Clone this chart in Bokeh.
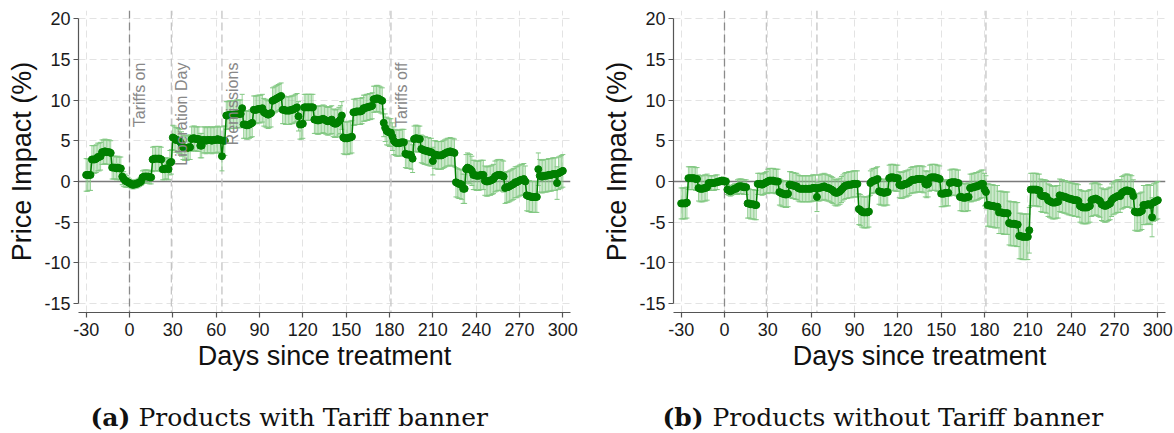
from math import pi
from bokeh.plotting import figure
from bokeh.models import ColumnDataSource, Span, FixedTicker, Range1d
from bokeh.layouts import row, column
from bokeh.embed import file_html
from bokeh.resources import INLINE
from bokeh.core.properties import value

# ---------------- data ----------------
days = list(range(-30, 301))
x_ticks = [-30, 0, 30, 60, 90, 120, 150, 180, 210, 240, 270, 300]
y_ticks = [-15, -10, -5, 0, 5, 10, 15, 20]

event_days = [0, 29, 64, 181]
event_names = ["Tariffs on", "Liberation Day", "Remissions", "Tariffs off"]

panel_letters = ["(a)", "(b)"]
panel_captions = ["Products with Tariff banner", "Products without Tariff banner"]

# (a) Products with Tariff banner: point estimates, one per day (-30..300)
impact_banner = [
    0.8, 0.8, 0.8, 0.8,
    2.7, 2.7, 2.7, 2.8, 3.0, 3.0, 3.1,
    3.6, 3.6, 3.7, 3.6, 3.6, 3.6, 3.5,
    1.7, 1.7, 1.7, 1.6, 1.7, 1.6, 1.6,
    0.6, 0.3, 0.1, 0.0, -0.1,
    -0.2, -0.3, -0.4, -0.4, -0.3, -0.3, -0.2, -0.1, 0.0,
    0.5, 0.6, 0.6, 0.6, 0.6, 0.5, 0.5,
    2.7, 2.8, 2.8, 2.8, 2.8, 2.8, 2.7,
    1.5, 1.5, 1.6, 1.6, 1.5,
    2.3, 2.4,
    5.4, 5.3, 5.1, 5.1, 5.0, 4.9, 4.6,
    4.2, 4.1, 4.1, 4.1, 4.2, 4.2,
    5.2, 5.3, 5.3, 5.2, 5.2, 5.2,
    4.4, 4.4,
    5.1, 5.1, 5.0, 5.1, 5.1, 5.1, 5.0, 5.1, 5.1, 5.1, 5.2, 5.1, 5.1,
    3.1, 5.0, 5.0,
    8.1, 8.1, 8.2, 8.2, 8.2, 8.2, 8.2, 8.3, 8.3, 8.3, 8.3,
    9.0,
    7.0, 7.0, 6.9, 6.9, 7.0, 7.1, 7.2,
    8.8, 8.8, 8.8, 8.9, 8.9, 8.9, 9.0,
    8.5, 8.4, 8.3, 8.2, 8.3, 8.4,
    9.9, 10.0, 10.1, 10.2, 10.3, 10.4, 10.5,
    8.8, 8.8, 8.7, 8.7, 8.7, 8.7, 8.8, 8.8, 8.9, 9.0, 9.1,
    8.0, 7.0, 7.0, 7.1,
    9.1, 9.1, 9.1, 9.1, 9.1, 9.1, 9.1,
    7.6, 7.6, 7.5, 7.5, 7.6, 7.6, 7.7, 7.6, 7.5, 7.4, 7.4, 7.5, 7.6,
    7.2, 7.1, 7.1, 7.2, 7.4, 7.6, 8.1,
    5.4, 5.3, 5.3, 5.3, 5.4, 5.4, 5.5,
    8.5, 8.5, 8.6, 8.6, 8.6, 8.6, 8.7,
    9.0, 9.0, 9.1, 9.1, 9.2, 9.2, 9.3,
    10.1, 10.1, 10.2, 10.2, 10.1, 10.0, 9.9,
    7.2, 6.6, 6.2, 6.1, 6.0, 6.0, 5.5, 5.0,
    4.8, 4.7, 4.7, 4.7, 4.8, 4.8, 4.8,
    3.4, 3.3, 3.3, 3.3, 3.2, 2.8,
    5.2, 5.3, 5.3, 5.2, 5.2,
    4.0, 3.9, 3.8, 3.8, 3.7, 3.7, 3.6, 3.6, 2.5,
    3.3, 3.3, 3.2, 3.2, 3.2, 3.2, 3.3, 3.4,
    3.5, 3.6, 3.6, 3.7, 3.6, 3.6, 3.5,
    -0.1, -0.2, -0.3, -0.3, -0.4, -0.9, -0.9,
    1.5, 1.7, 1.6, 1.5, 1.3,
    0.8, 0.8, 0.7, 0.7, 0.7, 0.8, 0.8, 0.8,
    0.1, 0.0, 0.0, 0.1, 0.1, 0.2, 0.3,
    0.6, 0.7, 0.8, 0.8, 0.8, 0.7, 0.6,
    -0.8, -0.7, -0.7, -0.6, -0.5, -0.4, -0.3,
    -0.1, -0.1, 0.0, 0.1, 0.2, 0.2, 0.3, 0.0,
    -1.7, -1.8, -1.8, -1.9, -1.9, -1.9, -1.9, -1.9,
    1.5, 0.7, 0.6, 0.6, 0.7, 0.7, 0.7, 0.8, 0.8, 0.8, 0.9, 0.9, 0.9,
    -0.2, 1.0, 1.1, 1.2, 1.3,
]

# (a) half-width of the confidence interval, one per day
ci_banner = [
    2.0, 2.0, 1.9, 1.9,
    1.7, 1.7, 1.7, 1.7, 1.7, 1.7, 1.7,
    1.5, 1.5, 1.5, 1.5, 1.5, 1.5, 1.5,
    1.4, 1.4, 1.4, 1.4, 1.4, 1.4, 1.4,
    1.0, 0.9, 0.8, 0.7, 0.6,
    0.5, 0.5, 0.5, 0.5, 0.5, 0.5, 0.5, 0.5, 0.5,
    0.8, 0.8, 0.8, 0.8, 0.8, 0.8, 0.8,
    1.5, 1.5, 1.5, 1.5, 1.5, 1.5, 1.5,
    1.3, 1.3, 1.3, 1.3, 1.3,
    1.5, 1.5,
    1.5, 1.5, 1.5, 1.5, 1.5, 1.5, 1.5,
    1.5, 1.5, 1.5, 1.5, 1.5, 1.5,
    1.5, 1.5, 1.5, 1.5, 1.5, 1.5,
    1.5, 1.5,
    1.6, 1.6, 1.6, 1.6, 1.6, 1.6, 1.6, 1.6, 1.6, 1.6, 1.6, 1.6, 1.6,
    1.8, 1.8, 1.8,
    1.7, 1.7, 1.7, 1.7, 1.7, 1.7, 1.7, 1.7, 1.7, 1.7, 1.7,
    1.7,
    1.7, 1.7, 1.7, 1.7, 1.7, 1.7, 1.7,
    1.7, 1.7, 1.7, 1.7, 1.7, 1.7, 1.7,
    1.7, 1.7, 1.7, 1.7, 1.7, 1.7,
    1.6, 1.6, 1.6, 1.6, 1.6, 1.6, 1.6,
    1.7, 1.7, 1.7, 1.7, 1.7, 1.7, 1.7, 1.7, 1.7, 1.7, 1.7,
    1.8, 1.8, 1.8, 1.8,
    1.6, 1.6, 1.6, 1.6, 1.6, 1.6, 1.6,
    1.7, 1.7, 1.7, 1.7, 1.7, 1.7, 1.7, 1.7, 1.7, 1.7, 1.7, 1.7, 1.7,
    1.7, 1.7, 1.7, 1.7, 1.7, 1.7, 1.7,
    2.0, 2.0, 2.0, 2.0, 2.0, 2.0, 2.0,
    1.6, 1.6, 1.6, 1.6, 1.6, 1.6, 1.6,
    1.6, 1.6, 1.6, 1.6, 1.6, 1.6, 1.6,
    1.6, 1.6, 1.6, 1.6, 1.6, 1.6, 1.6,
    1.7, 1.7, 1.7, 1.7, 1.7, 1.7, 1.7, 1.7,
    1.6, 1.6, 1.6, 1.6, 1.6, 1.6, 1.6,
    1.7, 1.7, 1.7, 1.7, 1.7, 1.7,
    1.6, 1.6, 1.6, 1.6, 1.6,
    1.7, 1.7, 1.7, 1.7, 1.7, 1.7, 1.7, 1.7, 1.7,
    1.7, 1.7, 1.7, 1.7, 1.7, 1.7, 1.7, 1.7,
    1.7, 1.7, 1.7, 1.7, 1.7, 1.7, 1.7,
    1.8, 1.8, 1.8, 1.8, 1.8, 1.8, 1.8,
    1.8, 1.8, 1.8, 1.8, 1.8,
    1.8, 1.8, 1.8, 1.8, 1.8, 1.8, 1.8, 1.8,
    1.8, 1.8, 1.8, 1.8, 1.8, 1.8, 1.8,
    1.9, 1.9, 1.9, 1.9, 1.9, 1.9, 1.9,
    1.9, 1.9, 1.9, 1.9, 1.9, 1.9, 1.9,
    1.9, 1.9, 1.9, 1.9, 1.9, 1.9, 1.9, 1.9,
    1.9, 1.9, 1.9, 1.9, 1.9, 1.9, 1.9, 1.9,
    2.0, 2.0, 2.0, 2.0, 2.0, 2.0, 2.0, 2.0, 2.0, 2.0, 2.0, 2.0, 2.0,
    2.0, 2.0, 2.0, 2.0, 2.0,
]

# (b) Products without Tariff banner: point estimates, one per day
impact_nobanner = [
    -2.7, -2.7, -2.7, -2.7, -2.6,
    0.4, 0.4, 0.4, 0.4, 0.4, 0.3, 0.3,
    -0.8, -0.9, -0.9, -0.9, -0.8, -0.8, -0.7,
    -0.2, -0.2, -0.2, -0.2, -0.2, -0.1, -0.1,
    0.0, 0.0, 0.1, 0.1, 0.0, 0.0,
    -1.0, -1.1, -1.2, -1.1, -1.0, -0.9, -0.9,
    -0.7, -0.6, -0.6, -0.6, -0.7, -0.7, -0.7,
    -2.7, -2.7, -2.8, -2.8, -2.8, -2.9, -2.9,
    -0.3, -0.3, -0.3, -0.4, -0.3, -0.2, -0.1,
    0.0, 0.1, 0.1, 0.1, 0.1, 0.0, 0.0, 0.0,
    -1.3, -1.4, -1.5, -1.5, -1.6, -1.6, -1.5,
    -0.4, -0.4, -0.5, -0.5, -0.6, -0.6,
    -0.8, -0.9, -0.9, -0.9, -0.9, -0.9, -0.9, -0.9, -0.9, -0.9, -0.8, -0.8, -0.8,
    -1.9,
    -0.8, -0.8, -0.7, -0.7, -0.6, -0.7, -0.8, -0.8, -0.9, -1.0, -1.1,
    -1.3, -1.4, -1.4, -1.3, -1.2, -1.0, -0.8,
    -0.6, -0.5, -0.5, -0.4, -0.4, -0.4, -0.3, -0.3, -0.3, -0.3,
    -3.4, -3.5, -3.7, -3.8, -3.8, -3.8, -3.8, -3.7,
    -0.2, 0.0, 0.1, 0.1, 0.2, 0.3,
    -1.2, -1.3, -1.3, -1.4, -1.4, -1.3, -1.3,
    0.4, 0.5, 0.5, 0.5, 0.4, 0.4, 0.4,
    -0.4, -0.5, -0.5, -0.4, -0.3, -0.3, -0.2, -0.1,
    0.1, 0.2, 0.2, 0.2, 0.3, 0.3, 0.3, 0.3, 0.3, 0.2,
    -0.3, -0.4, -0.3,
    0.4, 0.5, 0.5, 0.5, 0.5, 0.4, 0.4, 0.3,
    -1.5, -1.5, -1.5, -1.4, -1.4, -1.4,
    -0.2, -0.1, -0.1, -0.1, -0.1, -0.2, -0.2,
    -1.9, -1.9, -2.0, -2.0, -2.0, -1.9, -1.9,
    -0.8, -0.8, -0.7, -0.7, -0.6, -0.6, -0.5, -0.4, -0.3, -0.3,
    -1.0, -1.3,
    -2.9, -2.9, -3.0, -3.0, -3.0, -3.1, -3.1, -3.1,
    -3.8, -3.8, -3.8, -3.9, -3.9, -3.9, -3.9,
    -5.1, -5.2, -5.2, -5.2, -5.2, -5.3, -5.3,
    -6.7, -6.7, -6.8, -6.8, -6.8, -6.8, -6.8, -6.0,
    -1.0, -1.0, -1.0, -1.0, -1.0, -1.1, -1.1,
    -1.7, -1.8, -1.8, -1.8, -1.9,
    -2.3, -2.4, -2.5, -2.6, -2.6, -2.6, -2.5, -2.5,
    -1.7, -1.8, -1.8, -1.9, -1.9, -2.0, -2.1, -2.1,
    -2.2, -2.2, -2.3, -2.3, -2.3, -2.4,
    -3.0, -3.1, -3.2, -3.2, -3.2, -3.2, -3.1, -3.0,
    -2.3, -2.2, -2.2, -2.1, -2.2, -2.3, -2.4,
    -2.8, -2.9, -3.0, -3.0, -2.9, -2.8, -2.7,
    -2.3, -2.1, -2.0, -1.9, -1.8, -1.8, -1.8,
    -1.4, -1.3, -1.2, -1.1, -1.1, -1.2, -1.2, -1.3, -1.8,
    -3.7, -3.8, -3.8, -3.8, -3.7, -3.6,
    -2.9, -2.9, -2.9, -2.8, -2.8, -2.9, -4.4,
    -2.6, -2.5, -2.4, -2.3,
]

# (b) half-width of the confidence interval, one per day
ci_nobanner = [
    1.9, 1.9, 1.9, 1.9, 1.9,
    1.4, 1.4, 1.4, 1.4, 1.4, 1.4, 1.4,
    1.6, 1.6, 1.6, 1.6, 1.6, 1.6, 1.6,
    0.9, 0.9, 0.9, 0.9, 0.9, 0.9, 0.9,
    0.4, 0.4, 0.4, 0.4, 0.4, 0.4,
    0.6, 0.6, 0.6, 0.6, 0.6, 0.6, 0.6,
    0.9, 0.9, 0.9, 0.9, 0.9, 0.9, 0.9,
    1.8, 1.8, 1.8, 1.8, 1.8, 1.8, 1.8,
    1.3, 1.3, 1.3, 1.3, 1.3, 1.3, 1.3,
    1.5, 1.5, 1.5, 1.5, 1.5, 1.5, 1.5, 1.5,
    1.6, 1.6, 1.6, 1.6, 1.6, 1.6, 1.6,
    1.6, 1.6, 1.6, 1.6, 1.6, 1.6,
    1.6, 1.6, 1.6, 1.6, 1.6, 1.6, 1.6, 1.6, 1.6, 1.6, 1.6, 1.6, 1.6,
    1.8,
    1.6, 1.6, 1.6, 1.6, 1.6, 1.6, 1.6, 1.6, 1.6, 1.6, 1.6,
    1.6, 1.6, 1.6, 1.6, 1.6, 1.6, 1.6,
    1.6, 1.6, 1.6, 1.6, 1.6, 1.6, 1.6, 1.6, 1.6, 1.6,
    1.9, 1.9, 1.9, 1.9, 1.9, 1.9, 1.9, 1.9,
    1.5, 1.5, 1.5, 1.5, 1.5, 1.5,
    1.6, 1.6, 1.6, 1.6, 1.6, 1.6, 1.6,
    1.6, 1.6, 1.6, 1.6, 1.6, 1.6, 1.6,
    1.6, 1.6, 1.6, 1.6, 1.6, 1.6, 1.6, 1.6,
    1.6, 1.6, 1.6, 1.6, 1.6, 1.6, 1.6, 1.6, 1.6, 1.6,
    1.6, 1.6, 1.6,
    1.6, 1.6, 1.6, 1.6, 1.6, 1.6, 1.6, 1.6,
    1.6, 1.6, 1.6, 1.6, 1.6, 1.6,
    1.6, 1.6, 1.6, 1.6, 1.6, 1.6, 1.6,
    1.7, 1.7, 1.7, 1.7, 1.7, 1.7, 1.7,
    1.7, 1.7, 1.7, 1.7, 1.7, 1.7, 1.7, 1.7, 1.7, 1.7,
    2.0, 2.0,
    2.6, 2.6, 2.6, 2.6, 2.6, 2.6, 2.6, 2.6,
    2.6, 2.6, 2.6, 2.6, 2.6, 2.6, 2.6,
    2.7, 2.7, 2.7, 2.7, 2.7, 2.7, 2.7,
    2.8, 2.8, 2.8, 2.8, 2.8, 2.8, 2.8, 2.8,
    2.0, 2.0, 2.0, 2.0, 2.0, 2.0, 2.0,
    2.0, 2.0, 2.0, 2.0, 2.0,
    2.0, 2.0, 2.0, 2.0, 2.0, 2.0, 2.0, 2.0,
    2.0, 2.0, 2.0, 2.0, 2.0, 2.0, 2.0, 2.0,
    2.0, 2.0, 2.0, 2.0, 2.0, 2.0,
    2.0, 2.0, 2.0, 2.0, 2.0, 2.0, 2.0, 2.0,
    2.0, 2.0, 2.0, 2.0, 2.0, 2.0, 2.0,
    2.0, 2.0, 2.0, 2.0, 2.0, 2.0, 2.0,
    2.0, 2.0, 2.0, 2.0, 2.0, 2.0, 2.0,
    2.0, 2.0, 2.0, 2.0, 2.0, 2.0, 2.0, 2.0, 2.0,
    2.3, 2.3, 2.3, 2.3, 2.3, 2.3,
    2.4, 2.4, 2.4, 2.4, 2.4, 2.4, 2.4,
    2.3, 2.3, 2.3, 2.3,
]

for arr in (impact_banner, ci_banner, impact_nobanner, ci_nobanner):
    assert len(arr) == len(days), len(arr)

# ---------------- styling ----------------
GREEN = "#007f00"
BAR = "#82c882"
SANS = "Liberation Sans"
SERIF = "DejaVu Serif"
PLOT_H = 378
CAP_H = 433 - PLOT_H


def panel(vals, ci, names, bl, br):
    p = figure(width=587, height=PLOT_H,
               x_range=Range1d(-35.3, 305.3), y_range=Range1d(-16.1, 21.0),
               output_backend="svg", toolbar_location=None,
               min_border_left=bl, min_border_right=br,
               min_border_top=10, min_border_bottom=PLOT_H - 312)
    p.outline_line_color = None
    p.background_fill_color = "white"
    p.border_fill_color = "white"

    p.xgrid.ticker = FixedTicker(ticks=x_ticks)
    p.ygrid.ticker = FixedTicker(ticks=y_ticks)
    for g in (p.xgrid, p.ygrid):
        g.grid_line_color = "#e3e3e3"
        g.grid_line_dash = "7 4"
        g.grid_line_width = 1

    p.xaxis.ticker = FixedTicker(ticks=x_ticks)
    p.yaxis.ticker = FixedTicker(ticks=y_ticks)
    p.xaxis.major_label_overrides = {t: str(t) for t in x_ticks}
    p.yaxis.major_label_overrides = {t: str(t) for t in y_ticks}
    p.yaxis.bounds = (-15, 20)
    p.xaxis.axis_label = "Days since treatment"
    p.yaxis.axis_label = "Price Impact (%)"
    for ax in (p.xaxis, p.yaxis):
        ax.axis_line_color = "#555555"
        ax.axis_line_width = 1.2
        ax.major_tick_line_color = "#555555"
        ax.major_tick_line_width = 1.2
        ax.major_tick_out = 5
        ax.major_tick_in = 0
        ax.minor_tick_line_color = None
        ax.major_label_text_font = SANS
        ax.major_label_text_font_size = "18px"
        ax.major_label_text_color = "#1a1a1a"
        ax.axis_label_text_font = SANS
        ax.axis_label_text_font_size = "27px"
        ax.axis_label_text_font_style = "normal"
        ax.axis_label_text_color = "#111111"
    p.xaxis.major_label_standoff = 5
    p.xaxis.axis_label_standoff = 2
    p.yaxis.major_label_standoff = 3
    p.yaxis.axis_label_standoff = 4

    p.add_layout(Span(location=0, dimension="width", line_color="#7a7a7a",
                      line_width=1.5, level="underlay"))
    for i, d in enumerate(event_days):
        p.add_layout(Span(location=d, dimension="height",
                          line_color="#8a8a8a" if i == 0 else "#c4c4c4",
                          line_dash="8 4", line_width=1.3, level="underlay"))

    src = ColumnDataSource(dict(
        day=days, val=vals,
        lo=[v - c for v, c in zip(vals, ci)],
        hi=[v + c for v, c in zip(vals, ci)],
    ))
    p.segment(x0="day", y0="lo", x1="day", y1="hi", source=src,
              line_color=BAR, line_width=1, line_alpha=0.8)
    p.scatter(x="day", y="hi", source=src, marker="dash", size=5,
              line_color=BAR, line_width=1)
    p.scatter(x="day", y="lo", source=src, marker="dash", size=5,
              line_color=BAR, line_width=1)
    p.line(x="day", y="val", source=src, line_color=GREEN, line_width=1.5)
    p.scatter(x="day", y="val", source=src, size=7, fill_color=GREEN,
              line_color=GREEN)

    if names:
        esrc = ColumnDataSource(dict(x=event_days, y=[14.6] * len(event_days),
                                     t=event_names))
        p.text(x="x", y="y", text="t", source=esrc, angle=pi / 2,
               text_align="right", text_baseline="top", x_offset=2,
               text_font=value(SANS), text_font_size="16px",
               text_color="#888888")
    return p


def caption_fig(letter, caption, x_letter, x_caption):
    c = figure(width=587, height=CAP_H, x_range=Range1d(0, 587),
               y_range=Range1d(0, CAP_H), output_backend="svg",
               toolbar_location=None, title=None,
               min_border_left=0, min_border_right=0,
               min_border_top=0, min_border_bottom=0)
    c.xaxis.visible = False
    c.yaxis.visible = False
    c.grid.visible = False
    c.outline_line_color = None
    c.text(x=[x_letter], y=[16], text=[letter], text_font=value(SERIF),
           text_font_style="bold", text_font_size="25px",
           text_color="#111111", text_baseline="alphabetic",
           text_align="left")
    c.text(x=[x_caption], y=[16], text=[caption], text_font=value(SERIF),
           text_font_size="25px", text_color="#111111",
           text_baseline="alphabetic", text_align="left")
    return c


p1 = panel(impact_banner, ci_banner, True, 78, 17)
p2 = panel(impact_nobanner, ci_nobanner, False, 86, 9)
c1 = caption_fig(panel_letters[0], panel_captions[0], 90, 138)
c2 = caption_fig(panel_letters[1], panel_captions[1], 75, 125)

layout = column(row(p1, p2), row(c1, c2))
open("out.html", "w").write(file_html(layout, INLINE))
